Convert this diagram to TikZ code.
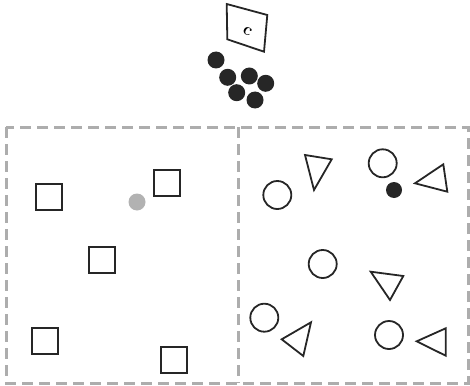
\documentclass[tikz,border=0pt]{standalone}
\begin{document}
\begin{tikzpicture}[x=1pt,y=-1pt,
  frame/.style={draw=black!32, line width=3pt, dash pattern=on 11pt off 6pt},
  sq/.style={draw=black!85, line width=2.2pt, minimum size=26pt, inner sep=0pt, rectangle},
  ring/.style={draw=black!85, line width=1.8pt, circle, minimum size=28pt, inner sep=0pt},
  ball/.style={fill=black!85, circle, minimum size=17pt, inner sep=0pt},
  tri/.style={draw=black!85, line width=1.8pt, line join=miter}
]
\useasboundingbox (0,0) rectangle (470,385);
% frames
\draw[frame] (6,127) rectangle (468,383);
\coordinate (dtop) at (238,127);
\coordinate (dbot) at (238,383);
\draw[frame] (dtop) -- (dbot);
% top card
\draw[draw=black!85, line width=1.8pt, line join=miter] (226.7,4) -- (267.3,15) -- (264,51.7) -- (227.3,39.3) -- cycle;
\node[rotate=-30, font=\fontsize{17}{17}\selectfont\bfseries, inner sep=0pt] (c) at (247.5,31) {c};
% top balls
\node[ball] (b1) at (216,60) {};
\node[ball] (b2) at (227.7,77.3) {};
\node[ball] (b3) at (249.3,76) {};
\node[ball] (b4) at (265.7,83.3) {};
\node[ball] (b5) at (236.7,92.7) {};
\node[ball] (b6) at (255,100) {};
% left squares
\node[sq] (s1) at (49,197) {};
\node[sq] (s2) at (167,183) {};
\node[sq] (s3) at (102,260) {};
\node[sq] (s4) at (45,341) {};
\node[sq] (s5) at (174,360) {};
\node[fill=black!30, circle, minimum size=17pt, inner sep=0pt] (g) at (137,202) {};
% right circles
\node[ring] (c1) at (277.3,195) {};
\node[ring] (c2) at (382.7,163.3) {};
\node[ring] (c3) at (322.7,264) {};
\node[ring] (c4) at (264.3,317.7) {};
\node[ring] (c5) at (389,335) {};
\node[ball, minimum size=16pt] (bd) at (394,190) {};
% triangles
\draw[tri] (305,155) -- (331.7,159.3) -- (314,190) -- cycle;
\draw[tri] (443.3,164.3) -- (447.3,191.7) -- (415,183.3) -- cycle;
\draw[tri] (370.7,271.7) -- (403.3,276) -- (390,300) -- cycle;
\draw[tri] (311,322.3) -- (303.3,356) -- (281.7,339.3) -- cycle;
\draw[tri] (445.7,328.3) -- (445.7,355.7) -- (416.7,341.3) -- cycle;
\end{tikzpicture}
\end{document}
